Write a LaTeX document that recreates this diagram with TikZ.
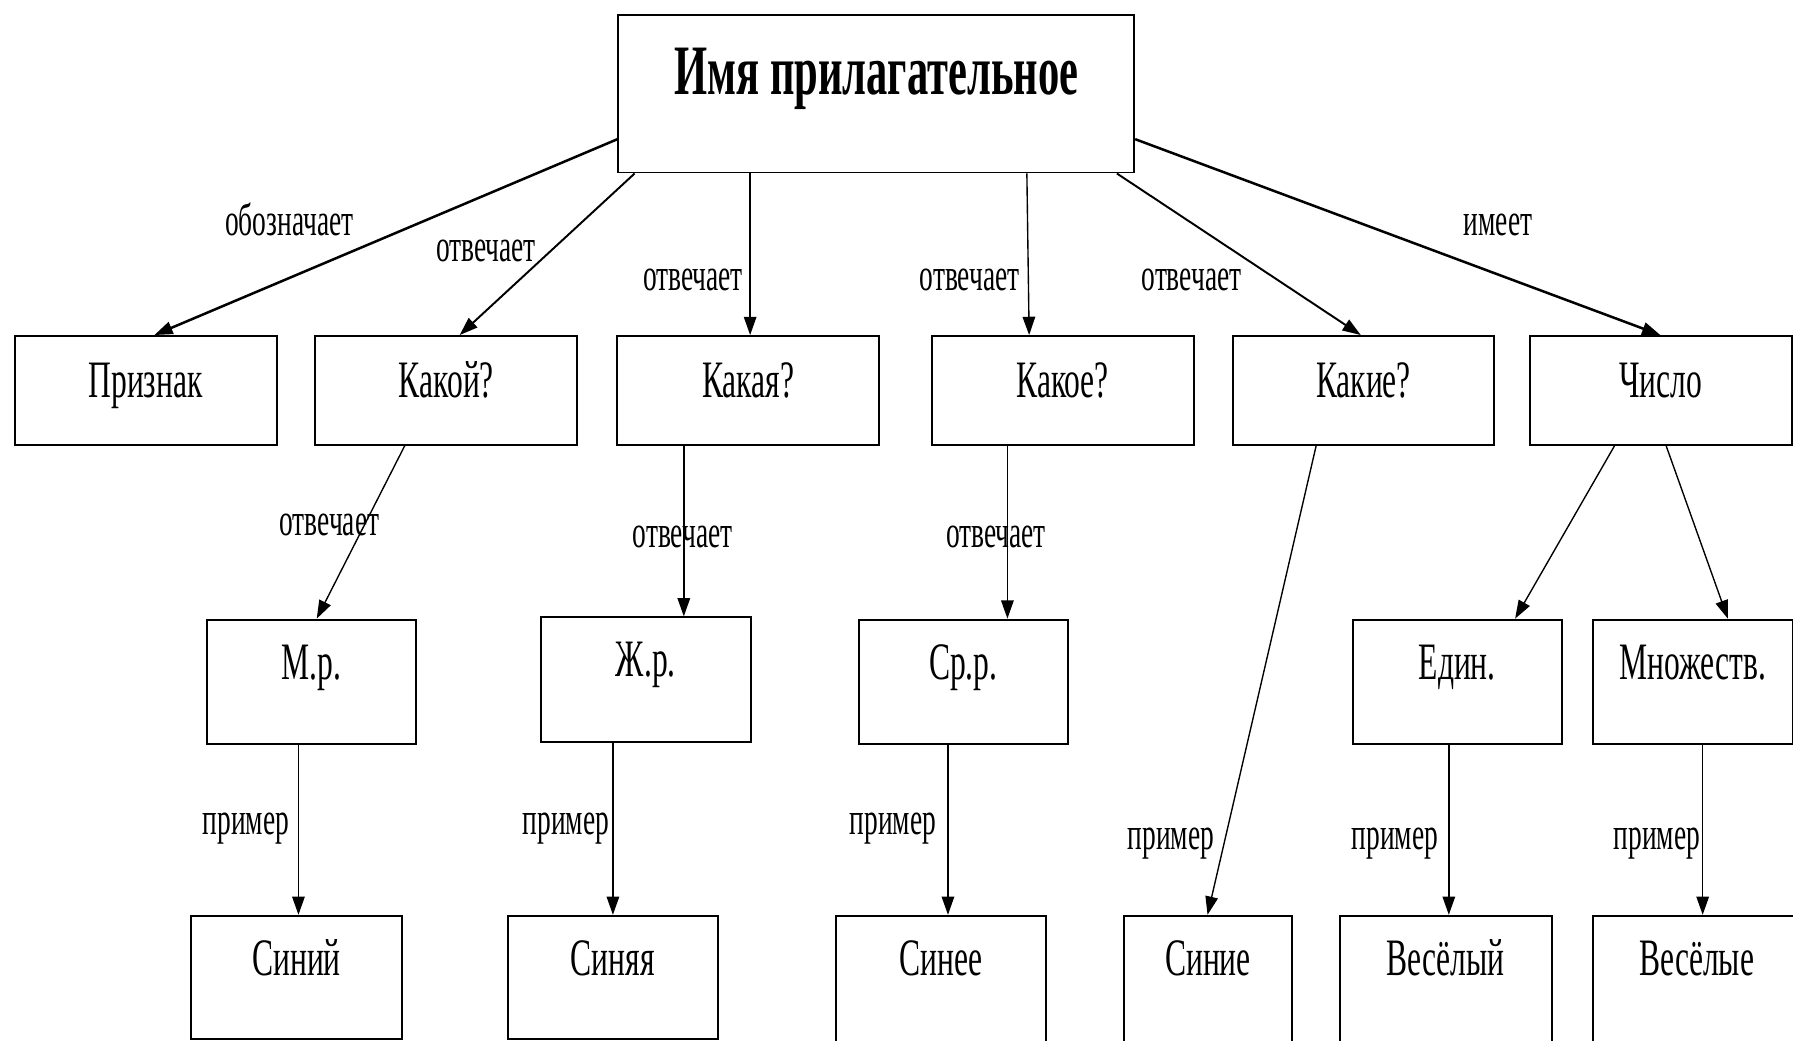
\documentclass[tikz,border=0pt]{standalone}
\usepackage{fontspec}
\setmainfont{Liberation Serif}
\newfontfamily\cf[FakeStretch=0.6]{Liberation Serif}
\usetikzlibrary{arrows.meta}
\begin{document}
\begin{tikzpicture}[x=1pt,y=-1pt,
  bx/.style={draw, line width=1.7pt, rectangle, inner sep=0pt, anchor=north west,
    font=\cf\fontsize{46}{50}\selectfont},
  rowa/.style={bx, minimum width=229pt, text height=54pt, text depth=41pt},
  rowb/.style={bx, text height=52pt, text depth=57pt},
  rowc/.style={bx, text height=52pt},
  lbl/.style={anchor=base, inner sep=0pt, font=\cf\fontsize{40}{44}\selectfont},
  conn/.style={-{Triangle[length=16pt,width=11pt]}, line width=1.2pt},
  connm/.style={conn, line width=1.7pt},
  connt/.style={conn, line width=2.2pt}]
\useasboundingbox (0,0) rectangle (1568,910);
\fill[white] (0,0) rectangle (1568,910);

% main
\node[bx, minimum width=451pt, text height=70pt, text depth=68pt,
  font=\cf\bfseries\fontsize{62}{66}\selectfont] (main) at (540,12) {Имя прилагательное};

% row 1
\node[rowa] (prizn)  at (12,293)   {Признак};
\node[rowa] (kakoj)  at (275,293)  {Какой?};
\node[rowa] (kakaya) at (539,293)  {Какая?};
\node[rowa] (kakoe)  at (814,293)  {Какое?};
\node[rowa] (kakie)  at (1077,293) {Какие?};
\node[rowa] (chislo) at (1337,293) {Число};

% row 2
\node[rowb, minimum width=183pt] (mr)    at (180,541)  {М.р.};
\node[rowb, minimum width=184pt] (zhr)   at (472,539)  {Ж.р.};
\node[rowb, minimum width=183pt] (srr)   at (750,541)  {Ср.р.};
\node[rowb, minimum width=183pt] (edin)  at (1182,541) {Един.};
\node[rowb, minimum width=175pt] (mnozh) at (1392,541) {Множеств.};

% row 3
\node[rowc, minimum width=185pt, text depth=56pt] (sinij)   at (166,800)  {Синий};
\node[rowc, minimum width=184pt, text depth=56pt] (sinyaya) at (443,800)  {Синяя};
\node[rowc, minimum width=184pt, text depth=73pt] (sinee)   at (730,800)  {Синее};
\node[rowc, minimum width=147pt, text depth=73pt] (sinie)   at (982,800)  {Синие};
\node[rowc, minimum width=185pt, text depth=73pt] (veselyj) at (1171,800) {Весёлый};
\node[rowc, minimum width=182pt, text depth=73pt] (veselye) at (1392,800) {Весёлые};

% connectors from main
\draw[connt] ([yshift=30pt]main.south west) -- ([xshift=123pt]prizn.north west);
\draw[connm] ([xshift=15pt]main.south west) -- ([xshift=127pt]kakoj.north west);
\draw[conn]  ([xshift=116pt]main.south west) -- ([xshift=117pt]kakaya.north west);
\draw[conn]  ([xshift=358pt]main.south west) -- ([xshift=86pt]kakoe.north west);
\draw[connm] ([xshift=-16pt]main.south east) -- ([xshift=113pt]kakie.north west);
\draw[connt] ([yshift=30pt]main.south east) -- ([xshift=115pt]chislo.north west);

% row 1 -> row 2 / row 3
\draw[conn] ([xshift=79pt]kakoj.south west) -- ([xshift=97pt]mr.north west);
\draw[conn] ([xshift=59pt]kakaya.south west) -- ([xshift=126pt]zhr.north west);
\draw[conn] ([xshift=67pt]kakoe.south west) -- ([xshift=131pt]srr.north west);
\draw[conn] ([xshift=74pt]kakie.south west) -- ([xshift=74pt]sinie.north west);
\draw[conn] ([xshift=75pt]chislo.south west) -- ([xshift=143pt]edin.north west);
\draw[conn] ([xshift=120pt]chislo.south west) -- ([xshift=119pt]mnozh.north west);

% row 2 -> row 3
\draw[conn] ([xshift=81pt]mr.south west) -- ([xshift=95pt]sinij.north west);
\draw[conn] ([xshift=64pt]zhr.south west) -- ([xshift=93pt]sinyaya.north west);
\draw[conn] ([xshift=79pt]srr.south west) -- ([xshift=99pt]sinee.north west);
\draw[conn] ([xshift=85pt]edin.south west) -- ([xshift=96pt]veselyj.north west);
\draw[conn] ([xshift=97pt]mnozh.south west) -- ([xshift=97pt]veselye.north west);

% labels
\node[lbl] (l1)  at (253,206)  {обозначает};
\node[lbl] (l2)  at (425,229)  {отвечает};
\node[lbl] (l3)  at (606,254)  {отвечает};
\node[lbl] (l4)  at (848,254)  {отвечает};
\node[lbl] (l5)  at (1042,254) {отвечает};
\node[lbl] (l6)  at (1310,206) {имеет};
\node[lbl] (l7)  at (288,468)  {отвечает};
\node[lbl] (l8)  at (597,479)  {отвечает};
\node[lbl] (l9)  at (871,479)  {отвечает};
\node[lbl] (l10) at (215,730)  {пример};
\node[lbl] (l11) at (495,730)  {пример};
\node[lbl] (l12) at (781,730)  {пример};
\node[lbl] (l13) at (1024,743) {пример};
\node[lbl] (l14) at (1220,743) {пример};
\node[lbl] (l15) at (1449,743) {пример};
\end{tikzpicture}
\end{document}
